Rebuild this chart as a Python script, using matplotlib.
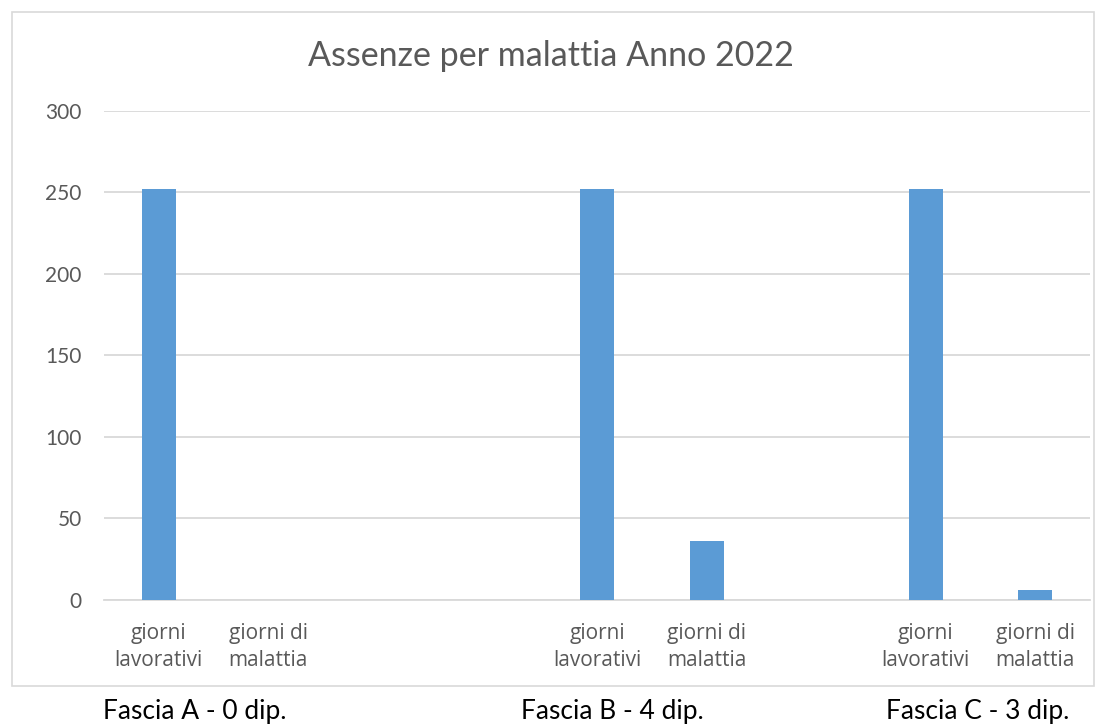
import numpy as np
import matplotlib
matplotlib.use('Agg')
from matplotlib import pyplot as plt
from matplotlib.patches import Rectangle

plt.rcParams['font.family'] = ['Lato', 'DejaVu Sans']

title = "Assenze per malattia Anno 2022"
categories = ["giorni\nlavorativi", "giorni di\nmalattia", "", "",
              "giorni\nlavorativi", "giorni di\nmalattia", "",
              "giorni\nlavorativi", "giorni di\nmalattia"]
values = [252, 0, 0, 0, 252, 36, 0, 252, 6]
groups = ["Fascia A - 0 dip.", "Fascia B - 4 dip.", "Fascia C - 3 dip."]
group_x = [195, 612, 978]  # pixel centres under the chart

W, H = 1095, 726
fig = plt.figure(figsize=(W / 100, H / 100), dpi=100)

# chart frame
fig.patches.append(Rectangle((12 / W, 1 - 686 / H), (1094 - 12) / W, (686 - 12) / H,
                             transform=fig.transFigure, fill=False,
                             edgecolor='#D9D9D9', linewidth=1.2))

ax = fig.add_axes([104 / W, 1 - 599.5 / H, 986 / W, 488.8 / H])
x = np.arange(len(categories))
ax.bar(x, values, width=0.31, color='#5B9BD5', zorder=3)

ax.set_xlim(-0.5, len(categories) - 0.5)
ax.set_ylim(0, 300)
ax.set_yticks(np.arange(0, 301, 50))
ax.set_xticks(x)
ax.set_xticklabels(categories, linespacing=1.35, fontsize=15, color='#595959',
                   family=['Open Sans', 'DejaVu Sans'])
ax.set_yticklabels([str(v) for v in range(0, 301, 50)], fontsize=15, color='#595959')
ax.grid(True, axis='y', color='#D9D9D9', linewidth=1.3, zorder=0)
for s in ['top', 'right', 'left']:
    ax.spines[s].set_visible(False)
ax.spines['bottom'].set_color('#D9D9D9')
ax.spines['bottom'].set_linewidth(1.3)
ax.tick_params(axis='both', length=0)
ax.tick_params(axis='y', pad=16)
ax.tick_params(axis='x', pad=17)

fig.text(550.5 / W, 1 - 56 / H, title, ha='center', va='center', fontsize=24.5, color='#595959')

for g, gx in zip(groups, group_x):
    fig.text(gx / W, 1 - 712 / H, g, ha='center', va='center', fontsize=19, color='black')

fig.savefig('out.png', dpi=100)
